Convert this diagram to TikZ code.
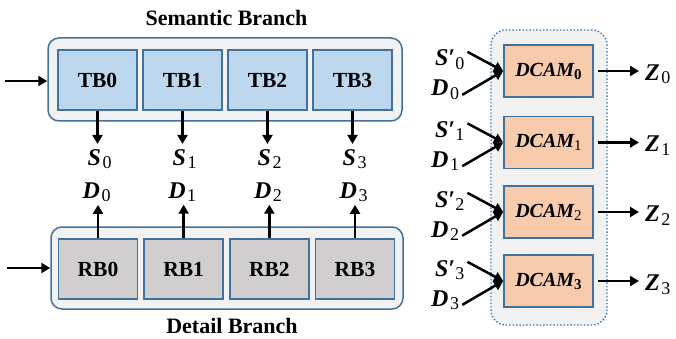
\documentclass[tikz,border=0pt]{standalone}
\usepackage{fontspec}
\setmainfont{Liberation Serif}
\usetikzlibrary{arrows.meta}

\definecolor{boxborder}{HTML}{41719C}
\definecolor{tbfill}{HTML}{BDD7EE}
\definecolor{rbfill}{HTML}{D0CECE}
\definecolor{grpfill}{HTML}{F2F2F2}
\definecolor{dcfill}{HTML}{F8CBAD}
\definecolor{dotc}{HTML}{2E75B6}

\newcommand\vsym[2]{\textbf{\textit{#1}}\hspace{1.5pt}\raisebox{-3.5pt}{\fontsize{18}{18}\selectfont #2}}
\newcommand\psym[2]{\textbf{\textit{#1}}\textbf{′}\raisebox{-3.5pt}{\fontsize{18}{18}\selectfont #2}}

\begin{document}
\begin{tikzpicture}[x=1pt,y=-1pt,
  grpbox/.style={draw=boxborder,line width=1.5pt,fill=grpfill,rounded corners=11pt,inner sep=0pt},
  tbbox/.style={draw=boxborder,line width=1.8pt,fill=tbfill,minimum width=79pt,minimum height=60pt,inner sep=0pt,font=\fontsize{21.5}{21.5}\selectfont\bfseries},
  rbbox/.style={tbbox,fill=rbfill},
  dcbox/.style={draw=boxborder,line width=1.8pt,fill=dcfill,minimum width=89pt,minimum height=52pt,inner sep=0pt,font=\fontsize{20}{20}\selectfont\bfseries\itshape},
  dotgrp/.style={draw=dotc,line width=1.4pt,dotted,fill=grpfill,rounded corners=15pt,inner sep=0pt},
  lbl/.style={inner sep=0pt,font=\fontsize{24}{24}\selectfont},
  ttl/.style={inner sep=0pt,font=\fontsize{22}{22}\selectfont\bfseries},
  arr/.style={line width=2.5pt,-{Triangle[length=9pt,width=10pt]}}
]
\useasboundingbox (0,0) rectangle (676,339);

% titles
\node[ttl,anchor=base] (ttlS) at (226.5,26) {Semantic Branch};
\node[ttl,anchor=base] (ttlD) at (232,333) {Detail Branch};

% group containers
\node[grpbox,minimum width=354pt,minimum height=83pt] (topgrp) at (225,79.5) {};
\node[grpbox,minimum width=352pt,minimum height=82pt] (botgrp) at (227,268) {};

\coordinate (inA) at (5,81);
\coordinate (inB) at (7,268);
\draw[arr] (inA) -- (inA -| topgrp.west);
\draw[arr] (inB) -- (inB -| botgrp.west);

\foreach \i in {0,...,3} {
  \pgfmathsetmacro\xt{97.5+85*\i}
  \pgfmathsetmacro\xr{98+85.67*\i}
  \node[tbbox] (tb\i) at (\xt,80) {TB\i};
  \node[rbbox] (rb\i) at (\xr,269) {RB\i};
  \node[lbl,anchor=base west] (s\i) at (\xt-10,165) {\vsym{S}{\i}};
  \node[lbl,anchor=base west] (d\i) at (\xr-15.5,198) {\vsym{D}{\i}};
  \draw[arr,shorten >=5pt] (tb\i) -- (tb\i |- s\i.north);
  \draw[arr,shorten >=3pt] (rb\i) -- (rb\i |- d\i.south);
}

% DCAM group
\node[dotgrp,minimum width=116pt,minimum height=295pt] (dgrp) at (549,177.5) {};

\foreach \i/\c/\w in {0/71/\bfseries,1/142.5/\mdseries,2/212/\mdseries,3/281/\bfseries} {
  \node[dcbox] (dc\i) at (548.5,\c) {DCAM\raisebox{-3pt}{\fontsize{15}{15}\selectfont\upshape\w \i}};
  \node[lbl,anchor=base west] (sp\i) at (435,\c-5) {\psym{S}{\i}};
  \node[lbl,anchor=base west] (dd\i) at (431,\c+25) {\vsym{D}{\i}};
  \node[lbl,anchor=base west] (z\i) at (645,\c+9.5) {\vsym{Z}{\i}};
  \draw[arr] ([xshift=3pt,yshift=-2pt]sp\i.north east) -- (dc\i.west);
  \draw[arr] ([xshift=3pt,yshift=5pt]dd\i.south east) -- (dc\i.west);
  \draw[arr,shorten <=4pt,shorten >=6pt] (dc\i.east) -- (dc\i.east -| z\i.west);
}
\end{tikzpicture}
\end{document}
